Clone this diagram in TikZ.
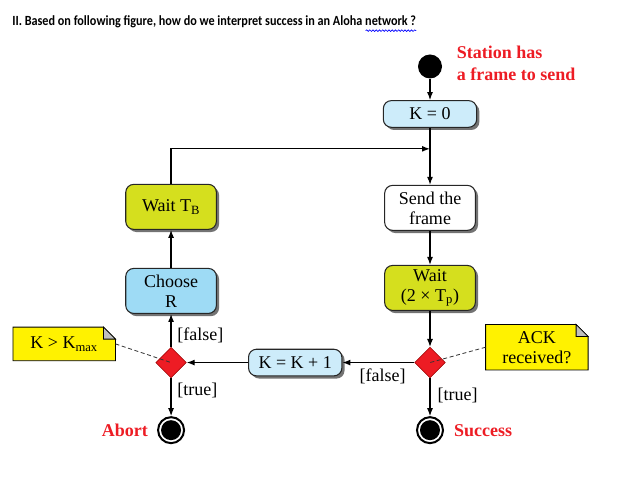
\documentclass[tikz,border=0pt]{standalone}
\usepackage{fontspec}
\setmainfont{Liberation Serif}
\newfontfamily\calibri{Carlito}
\usetikzlibrary{arrows.meta}
\usetikzlibrary{positioning}
\usetikzlibrary{shapes.geometric}
\usetikzlibrary{shadows}
\usetikzlibrary{backgrounds}
\usetikzlibrary{decorations.pathmorphing}

\definecolor{boxblue}{RGB}{205,236,250}
\definecolor{chooseblue}{RGB}{158,219,245}
\definecolor{waitgreen}{RGB}{213,223,30}
\definecolor{noteyellow}{RGB}{255,242,0}
\definecolor{decred}{RGB}{237,28,36}

\begin{document}
\begin{tikzpicture}
    [x=0.75pt, y=-0.75pt,
     every node/.style={font=\fontsize{13.5}{15}\selectfont},
     act/.style={rectangle, rounded corners=6pt, draw=black!85, line width=0.8pt, align=center, minimum width=68pt, minimum height=33.75pt, inner sep=2pt, drop shadow={shadow xshift=2pt, shadow yshift=-2pt, fill=black!55, opacity=1}},
     actb/.style={act, fill=boxblue, minimum width=70pt, minimum height=20pt},
     dec/.style={diamond, fill=decred, draw=red!60!black, line width=0.4pt, minimum size=23pt, inner sep=0pt},
     init/.style={circle, fill=black, minimum size=18pt, inner sep=0pt},
     fin/.style={circle, draw=black, line width=1.5pt, fill=white, minimum size=19.5pt, inner sep=0pt, path picture={\fill [black] (path picture bounding box.center) circle (7.5pt);}},
     note/.style={rectangle, minimum width=76.5pt, align=center, inner sep=2pt},
     lbl/.style={font=\fontsize{13.5}{16.5}\selectfont\bfseries, text=decred},
     arr/.style={-{Latex[length=6pt, width=4.5pt]}, line width=0.9pt},
     link/.style={densely dashed, line width=0.6pt, black!80}]

    \useasboundingbox (0,0) rectangle (629,477);

    \node [anchor=base west, inner sep=0pt, font=\calibri\bfseries\fontsize{10.5}{12}\selectfont] (question) at (12,26) {\scalebox{0.87}[1]{II. Based on following figure, how do we interpret success in an Aloha network ?}};
    \draw [blue, decorate, decoration={snake, amplitude=0.6pt, segment length=2.4pt}, line width=0.5pt] ([xshift=-38pt, yshift=-3.5pt]question.base east) -- ([yshift=-3.5pt]question.base east);

    % right column
    \node [init] (start) at (430,66.5) {};
    \node [actb, below=16pt of start] (k0) {K = 0};
    \node [act, fill=white, below=42.75pt of k0] (send) {Send the\\frame};
    \node [act, fill=waitgreen, below=25.5pt of send] (wait2) {Wait\\(2 × T\textsubscript{p})};
    \node [dec, below=27pt of wait2] (dr) {};
    \node [fin, below=28.5pt of dr] (success) {};

    % left column
    \node [actb, left=54pt of dr] (kinc) {K = K + 1};
    \node [dec, left=46pt of kinc] (dl) {};
    \node [fin, below=28.5pt of dl] (abort) {};
    \node [act, fill=chooseblue, above=24.75pt of dl] (chooser) {Choose\\R};
    \node [act, fill=waitgreen, above=28.5pt of chooser] (waitb) {Wait T\textsubscript{B}};

    \node [note, left=30pt of dl, yshift=14pt, minimum height=24.75pt] (notek) {K > K\textsubscript{max}};
    \node [note, right=30pt of dr, yshift=11.5pt, minimum height=33.75pt] (noteack) {ACK\\received?};
    \begin{scope}[on background layer]
    \foreach \n in {notek, noteack} {
        \filldraw [fill=noteyellow, line width=0.6pt] (\n.south west) -- (\n.north west) -- ([xshift=-9pt]\n.north east) -- ([yshift=-9pt]\n.north east) -- (\n.south east) -- cycle;
        \filldraw [fill=black!25, line width=0.6pt] ([xshift=-9pt]\n.north east) -- ([xshift=-9pt, yshift=-9pt]\n.north east) -- ([yshift=-9pt]\n.north east) -- cycle;
    }
    \end{scope}

    \node [lbl, left=3.4pt of abort] (abortlbl) {Abort};
    \node [lbl, right=4pt of success] (successlbl) {Success};
    \node [lbl, right=7.5pt of start, yshift=2.6pt, align=left] (stationlbl) {Station has\\a frame to send};

    \coordinate (loopin) at ([yshift=-15.75pt]k0.south);
    \draw [arr] (start) -- (k0);
    \draw [arr] (k0) -- (send);
    \draw [arr] (waitb.north) |- (loopin);
    \draw [arr] (send) -- (wait2);
    \draw [arr] (wait2) -- (dr);
    \path [arr] (dr) edge node [right=2pt, pos=0.45] {[true]} (success);
    \path [arr] (dr) edge node [below=1pt, pos=0.44] {[false]} (kinc);
    \draw [arr] (kinc) -- (dl);
    \path [arr] (dl) edge node [right=1pt, pos=0.35] {[false]} (chooser);
    \path [arr] (dl) edge node [right=1pt, pos=0.32] {[true]} (abort);
    \draw [arr] (chooser) -- (waitb);

    \draw [link] (notek.east) -- (dl.center);
    \draw [link] (noteack.west) -- (dr.center);
\end{tikzpicture}
\end{document}
